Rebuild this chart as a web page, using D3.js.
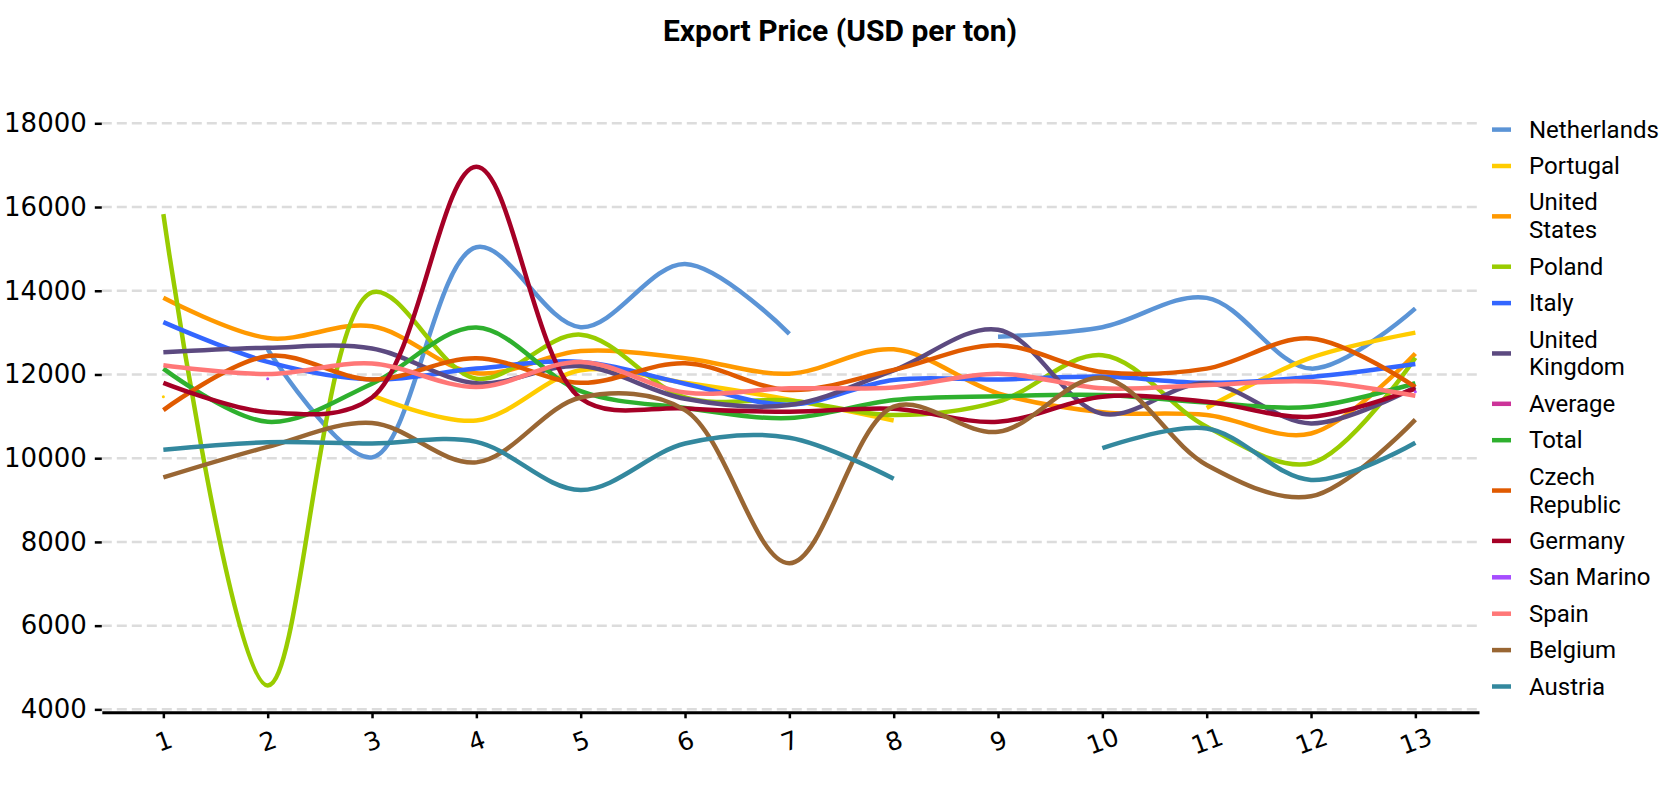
<!DOCTYPE html>
<html>
<head>
<meta charset="utf-8">
<script src="https://cdn.jsdelivr.net/npm/d3@7"></script>
<style>
  html, body { margin: 0; padding: 0; background: #ffffff; }
  svg { display: block; }
</style>
</head>
<body>
<svg id="chart" width="1680" height="800"></svg>
<script>
// ---------------- DATA ----------------
const title = "Export Price (USD per ton)";
const categories = [1, 2, 3, 4, 5, 6, 7, 8, 9, 10, 11, 12, 13];
const xTickLabels = ["1", "2", "3", "4", "5", "6", "7", "8", "9", "10", "11", "12", "13"];
const yTickValues = [4000, 6000, 8000, 10000, 12000, 14000, 16000, 18000];

const seriesNames = ["Netherlands", "Portugal", "United States", "Poland", "Italy",
  "United Kingdom", "Average", "Total", "Czech Republic", "Germany", "San Marino",
  "Spain", "Belgium", "Austria"];
const seriesColors = ["#5b94d6", "#ffcc00", "#ff9900", "#99cc00", "#3366ff",
  "#5c4a80", "#cc3399", "#2eb02e", "#e05a00", "#a50026", "#a64dff",
  "#ff7777", "#996633", "#33889e"];

const netherlands   = [null, 12600, 10020, 15040, 13130, 14640, 12970, null, 12900, 13130, 13830, 12140, 13580];
const portugal      = [11470, null, 11500, 10900, 12100, 11800, 11400, 10900, null, null, 11200, 12400, 13000];
const unitedStates  = [13830, 12870, 13150, 12030, 12560, 12390, 12020, 12600, 11550, 11100, 11030, 10590, 12500];
const poland        = [15830, 4570, 13960, 11900, 12950, 11450, 11380, 11030, 11350, 12460, 10750, 9880, 12400];
const italy         = [13250, 12300, 11880, 12140, 12300, 11780, 11280, 11870, 11880, 11950, 11800, 11940, 12250];
const unitedKingdom = [12530, 12640, 12620, 11790, 12200, 11420, 11270, 12100, 13070, 11060, 11790, 10830, 11700];
const average       = [null, null, null, null, null, null, null, null, null, null, null, null, null];
const total         = [12140, 10870, 11780, 13120, 11600, 11200, 10960, 11390, 11480, 11510, 11330, 11230, 11790];
const czechRepublic = [11150, 12440, 11880, 12390, 11800, 12270, 11630, 12110, 12700, 12060, 12140, 12860, 11700];
const germany       = [11800, 11100, 11450, 16960, 11430, 11190, 11110, 11180, 10870, 11470, 11350, 10990, 11660];
const sanMarino     = [null, 11900, null, null, null, null, null, null, null, null, null, null, 11590];
const spain         = [12220, 12010, 12260, 11700, 12300, 11570, 11670, 11690, 12020, 11670, 11750, 11830, 11490];
const belgium       = [9540, 10270, 10840, 9900, 11450, 11150, 7490, 11230, 10630, 11920, 9840, 9090, 10920];
const austria       = [10200, 10380, 10350, 10390, 9240, 10350, 10490, 9510, null, 10240, 10710, 9480, 10370];

const seriesValues = [netherlands, portugal, unitedStates, poland, italy, unitedKingdom,
  average, total, czechRepublic, germany, sanMarino, spain, belgium, austria];

// ---------------- CHART ----------------
const svg = d3.select("#chart");

const x = d3.scaleLinear().domain([0.41, 13.61]).range([101.8, 1479]);
const y = d3.scaleLinear().domain([3930, 18000]).range([712.3, 123.3]);

// title
svg.append("text")
  .attr("x", 840).attr("y", 30)
  .attr("text-anchor", "middle")
  .attr("dominant-baseline", "central")
  .style("font-family", "Roboto, 'DejaVu Sans', sans-serif")
  .style("font-weight", "bold")
  .style("font-size", "30px")
  .attr("fill", "#000")
  .text(title);

// gridlines
svg.append("g").selectAll("line").data(yTickValues).join("line")
  .attr("x1", x.range()[0]).attr("x2", x.range()[1])
  .attr("y1", d => y(d)).attr("y2", d => y(d))
  .attr("stroke", "#dcdcdc")
  .attr("stroke-width", 2.5)
  .attr("stroke-dasharray", "10,5");

// y axis
const yAxis = d3.axisLeft(y).tickValues(yTickValues).tickSize(7).tickPadding(8).tickFormat(d3.format("d"));
const gy = svg.append("g").attr("transform", `translate(${x.range()[0]},0)`).call(yAxis);
gy.select(".domain").remove();
gy.selectAll(".tick line").attr("stroke", "#000").attr("stroke-width", 2.5);
gy.selectAll(".tick text")
  .style("font-family", "'DejaVu Sans', sans-serif")
  .style("font-size", "26px")
  .attr("fill", "#000");

// x axis
const xAxis = d3.axisBottom(x).tickValues(categories).tickSize(6).tickSizeOuter(0)
  .tickFormat((d, i) => xTickLabels[i]);
const gx = svg.append("g").attr("transform", `translate(0,${y.range()[0]})`).call(xAxis);
gx.select(".domain").attr("stroke", "#000").attr("stroke-width", 3);
gx.selectAll(".tick line").attr("stroke", "#000").attr("stroke-width", 2.5);
gx.selectAll(".tick text")
  .attr("y", 0).attr("dy", null)
  .attr("dominant-baseline", "central")
  .attr("text-anchor", "middle")
  .attr("transform", "translate(0,29) rotate(-20)")
  .style("font-family", "'DejaVu Sans', sans-serif")
  .style("font-size", "25px")
  .attr("fill", "#000");

// lines
const line = d3.line()
  .defined(d => d != null)
  .x((d, i) => x(categories[i]))
  .y(d => y(d))
  .curve(d3.curveCatmullRom.alpha(0.5));

const gLines = svg.append("g");
seriesValues.forEach((vals, si) => {
  gLines.append("path")
    .attr("d", line(vals))
    .attr("fill", "none")
    .attr("stroke", seriesColors[si])
    .attr("stroke-width", 4.5)
    .attr("stroke-linejoin", "round");
  // isolated single points
  vals.forEach((v, i) => {
    if (v == null) return;
    const prev = i > 0 ? vals[i - 1] : null;
    const next = i < vals.length - 1 ? vals[i + 1] : null;
    if (prev == null && next == null) {
      gLines.append("circle")
        .attr("cx", x(categories[i])).attr("cy", y(v)).attr("r", 1.5)
        .attr("fill", seriesColors[si]);
    }
  });
});

// legend
const legend = svg.append("g");
const lineGap = 27.9, itemGap = 36.4, maxTextWidth = 140;
let cursor = 129.6;
seriesNames.forEach((name, si) => {
  const words = name.split(" ");
  const tmp = legend.append("text")
    .style("font-family", "Roboto, sans-serif").style("font-size", "24px");
  const lines = [];
  let cur = "";
  words.forEach(w => {
    const test = cur ? cur + " " + w : w;
    tmp.text(test);
    if (cur && tmp.node().getComputedTextLength() > maxTextWidth) {
      lines.push(cur); cur = w;
    } else cur = test;
  });
  lines.push(cur);
  tmp.remove();

  const midY = cursor + (lines.length - 1) * lineGap / 2;
  legend.append("line")
    .attr("x1", 1492).attr("x2", 1511)
    .attr("y1", midY).attr("y2", midY)
    .attr("stroke", seriesColors[si]).attr("stroke-width", 4.5);
  lines.forEach((t, li) => {
    legend.append("text")
      .attr("x", 1529).attr("y", cursor + li * lineGap)
      .attr("dominant-baseline", "central")
      .style("font-family", "Roboto, sans-serif")
      .style("font-size", "24px")
      .attr("fill", "#000")
      .text(t);
  });
  cursor += (lines.length - 1) * lineGap + itemGap;
});
</script>
</body>
</html>
